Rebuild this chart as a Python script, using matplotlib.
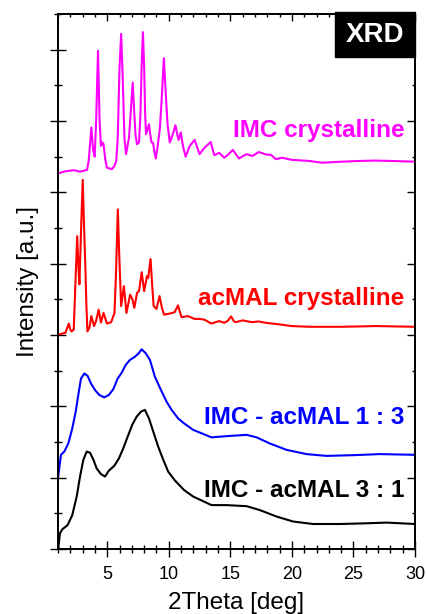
import matplotlib
matplotlib.use('Agg')
import matplotlib.pyplot as plt
from matplotlib.ticker import MultipleLocator
from matplotlib.patches import Rectangle

plt.rcParams['font.family'] = ['Liberation Sans', 'DejaVu Sans']

# ---- data ----
imc_x = [1.0, 1.6, 2.3, 2.8, 3.36, 3.5, 3.71, 3.85, 3.98, 4.1, 4.25, 4.38, 4.49, 4.6, 4.7, 4.85,
         4.98, 5.38, 5.6, 5.73, 5.85, 6.0, 6.13, 6.25, 6.4, 6.53, 6.77, 6.9, 7.07, 7.2, 7.3, 7.42,
         7.58, 7.7, 7.8, 7.9, 8.0, 8.08, 8.15, 8.25, 8.39, 8.5, 8.6, 8.73, 8.85, 8.95, 9.1, 9.27,
         9.42, 9.6, 9.75, 9.9, 10.08, 10.3, 10.54, 10.7, 10.8, 10.97, 11.15, 11.37, 11.7, 12.1,
         12.5, 12.9, 13.4, 13.7, 14.1, 14.5, 14.8, 15.2, 15.7, 16.3, 16.8, 17.3, 17.9, 18.3, 18.7,
         19.2, 20.0, 21.4, 22.45, 23.0, 24.1, 25.5, 26.8, 28.0, 30.0]
imc_y = [10.53, 10.59, 10.62, 10.58, 10.63, 10.9, 11.82, 11.2, 11.0, 12.0, 13.97, 12.0, 11.3, 11.4,
         11.35, 10.9, 10.69, 10.65, 10.75, 10.88, 11.5, 13.5, 14.44, 13.3, 11.5, 11.07, 11.54, 12.2,
         13.08, 12.2, 11.6, 11.35, 11.4, 12.2, 13.6, 14.49, 13.5, 12.2, 11.63, 11.75, 11.91, 11.6,
         11.4, 11.38, 11.1, 10.95, 11.3, 11.77, 12.6, 13.76, 12.8, 11.9, 11.4, 11.6, 11.88, 11.6,
         11.47, 11.68, 11.3, 11.0, 11.3, 11.47, 11.07, 11.25, 11.41, 11.04, 11.11, 10.97, 11.05,
         11.19, 10.95, 11.07, 11.02, 11.13, 11.06, 11.05, 10.93, 10.97, 10.91, 10.88, 10.83, 10.84,
         10.86, 10.88, 10.89, 10.88, 10.86]

mal_x = [1.0, 1.6, 1.75, 1.88, 2.0, 2.1, 2.28, 2.4, 2.56, 2.65, 2.74, 2.88, 3.01, 3.12, 3.23, 3.31,
         3.39, 3.55, 3.71, 3.93, 4.1, 4.3, 4.49, 4.7, 4.98, 5.32, 5.59, 5.72, 5.86, 5.98, 6.13, 6.35,
         6.56, 6.86, 7.05, 7.2, 7.42, 7.58, 7.8, 8.0, 8.23, 8.33, 8.52, 8.65, 8.77, 9.0, 9.25, 9.45,
         9.62, 10.08, 10.48, 10.75, 11.03, 11.56, 12.1, 12.5, 12.9, 13.45, 14.1, 14.5, 14.8, 15.06,
         15.3, 15.46, 16.0, 16.4, 16.8, 17.3, 17.9, 18.7, 20.0, 21.4, 24.1, 26.8, 28.5, 30.0]
mal_y = [6.01, 6.06, 6.2, 6.32, 6.15, 6.1, 6.15, 7.3, 8.77, 8.0, 7.42, 9.0, 10.35, 9.0, 7.84, 6.8,
         6.1, 6.2, 6.53, 6.25, 6.4, 6.71, 6.35, 6.62, 6.32, 6.36, 6.62, 7.8, 9.52, 8.2, 6.81, 7.37,
         6.62, 7.13, 7.0, 6.76, 7.18, 7.23, 7.76, 7.23, 7.65, 7.6, 8.13, 7.4, 6.81, 6.73, 7.09, 6.75,
         6.57, 6.6, 6.64, 6.83, 6.5, 6.53, 6.45, 6.45, 6.43, 6.32, 6.39, 6.34, 6.4, 6.52, 6.38, 6.36,
         6.41, 6.38, 6.36, 6.38, 6.34, 6.31, 6.25, 6.23, 6.23, 6.25, 6.24, 6.23]

mix13_x = [1.02, 1.24, 1.51, 1.84, 2.16, 2.44, 2.65, 2.87, 3.14, 3.41, 3.68, 4.0, 4.35, 4.76, 5.14,
           5.49, 5.85, 6.17, 6.5, 6.84, 7.25, 7.57, 7.79, 8.12, 8.47, 8.87, 9.36, 9.82, 10.23, 10.76,
           11.25, 11.98, 13.47, 14.96, 16.32, 17.13, 18.2, 19.56, 21.19, 22.81, 24.97, 27.14, 30.0]
mix13_y = [2.03, 2.64, 2.73, 2.96, 3.38, 3.85, 4.32, 4.78, 4.92, 4.85, 4.64, 4.46, 4.32, 4.25, 4.32,
           4.48, 4.78, 4.94, 5.16, 5.3, 5.39, 5.49, 5.6, 5.49, 5.3, 4.83, 4.46, 4.13, 3.9, 3.66,
           3.52, 3.34, 3.13, 3.17, 3.2, 3.13, 2.96, 2.78, 2.66, 2.61, 2.63, 2.66, 2.64]

mix31_x = [1.02, 1.16, 1.35, 1.78, 2.16, 2.52, 2.79, 3.06, 3.33, 3.6, 3.87, 4.14, 4.49, 4.82, 5.14,
           5.57, 5.95, 6.3, 6.66, 7.03, 7.39, 7.74, 8.06, 8.39, 8.74, 9.14, 9.55, 9.95, 10.5, 11.25,
           11.98, 13.47, 14.69, 16.32, 17.4, 18.75, 20.1, 21.72, 23.89, 26.06, 27.68, 30.0]
mix31_y = [0.0, 0.44, 0.55, 0.67, 0.95, 1.47, 2.03, 2.5, 2.73, 2.7, 2.51, 2.26, 2.1, 2.03, 2.2,
           2.33, 2.54, 2.82, 3.15, 3.48, 3.71, 3.85, 3.9, 3.66, 3.29, 2.87, 2.5, 2.17, 1.92, 1.65,
           1.47, 1.23, 1.23, 1.2, 1.09, 0.91, 0.77, 0.7, 0.7, 0.72, 0.74, 0.7]

labels = ['IMC crystalline', 'acMAL crystalline', 'IMC - acMAL 1 : 3', 'IMC - acMAL 3 : 1']
label_y = [11.55, 6.84, 3.5, 1.47]
colors = ['#FF00FF', '#FF0000', '#0000FF', '#000000']

x_ticks = [5, 10, 15, 20, 25, 30]

# ---- figure ----
fig = plt.figure(figsize=(4.27, 6.14), dpi=100)
ax = fig.add_axes([0.1358, 0.1059, 0.8361, 0.8713])

series = [(imc_x, imc_y), (mal_x, mal_y), (mix13_x, mix13_y), (mix31_x, mix31_y)]
for (xs, ys), c in zip(series, colors):
    ax.plot(xs, ys, color=c, lw=1.5, solid_joinstyle='round')

for lab, ly, c in zip(labels, label_y, colors):
    ax.text(29.15, ly, lab, color=c, fontsize=17.5, fontweight='bold', ha='right', va='baseline')

ax.set_xlim(1, 30)
ax.set_ylim(0, 15)
ax.set_xticks(x_ticks)
ax.set_xticklabels([str(t) for t in x_ticks], fontsize=13)
ax.xaxis.set_minor_locator(MultipleLocator(1))
ax.yaxis.set_major_locator(MultipleLocator(2))
ax.yaxis.set_minor_locator(MultipleLocator(1))
ax.set_yticklabels([])

ax.tick_params(axis='x', which='major', direction='inout', length=12, width=1, top=False, pad=6)
ax.tick_params(axis='x', which='minor', direction='inout', length=6, width=1, top=False)
ax.tick_params(axis='y', which='major', direction='inout', length=12, width=1, right=False)
ax.tick_params(axis='y', which='minor', direction='inout', length=6, width=1, right=False)

for s in ax.spines.values():
    s.set_linewidth(1.1)

axt = ax.twiny()
axt.set_xlim(ax.get_xlim())
axt.set_xticks(x_ticks)
axt.xaxis.set_minor_locator(MultipleLocator(1))
axt.tick_params(axis='x', which='major', direction='in', length=5, width=1, labeltop=False)
axt.tick_params(axis='x', which='minor', direction='in', length=2.5, width=1)

axr = ax.twinx()
axr.set_ylim(ax.get_ylim())
axr.yaxis.set_major_locator(MultipleLocator(2))
axr.yaxis.set_minor_locator(MultipleLocator(1))
axr.tick_params(axis='y', which='major', direction='in', length=6, width=1, labelright=False)
axr.tick_params(axis='y', which='minor', direction='in', length=2.5, width=1)
for a in (axt, axr):
    for s in a.spines.values():
        s.set_linewidth(1.1)

ax.set_xlabel('2Theta [deg]', fontsize=17.5, labelpad=7)
ax.set_ylabel('Intensity [a.u.]', fontsize=17.5, labelpad=4)

# XRD box
axr.add_patch(Rectangle((0.776, 0.92), 0.224, 0.083, transform=axr.transAxes,
                        facecolor='black', edgecolor='black', clip_on=False, zorder=5))
axr.text(0.888, 0.961, 'XRD', transform=axr.transAxes, color='white', fontsize=20,
         fontweight='bold', ha='center', va='center', zorder=6)

fig.savefig('out.png', dpi=100)
